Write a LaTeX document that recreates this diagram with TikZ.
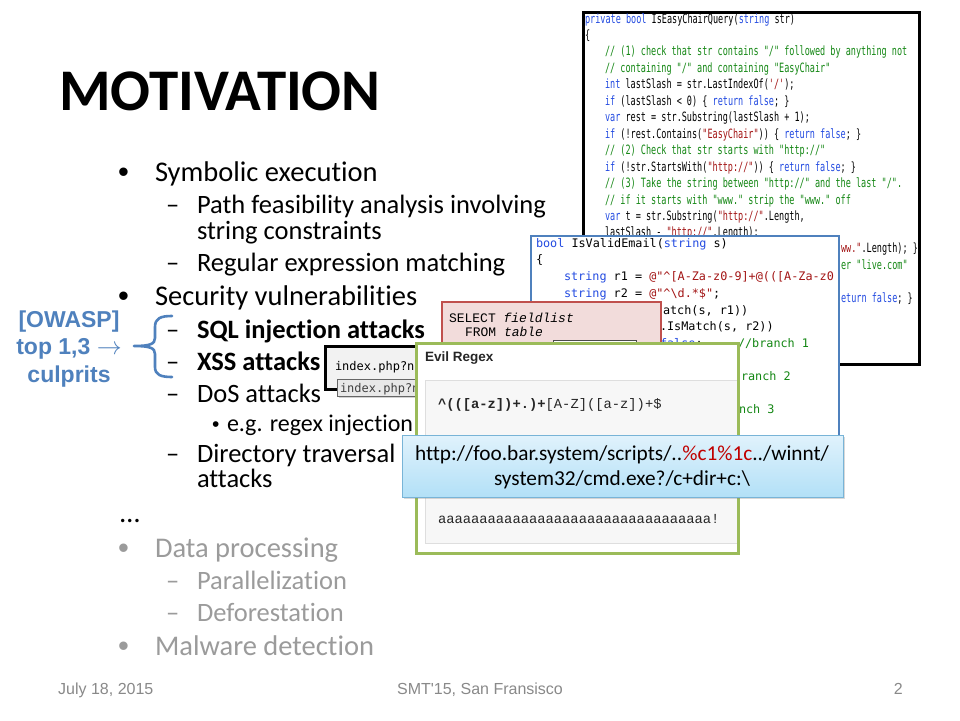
\documentclass[tikz,border=0pt]{standalone}
\usepackage{fontspec}
\setmainfont{Carlito}[Ligatures={NoCommon}]
\newfontfamily\arialf{Liberation Sans}
\newfontfamily\consf{DejaVu Sans Mono}
\newfontfamily\courf{Liberation Mono}
\usepackage{graphicx}
\usetikzlibrary{shadows}
\definecolor{kwblue}{RGB}{35,75,225}
\definecolor{cmgreen}{RGB}{20,135,20}
\definecolor{strred}{RGB}{163,21,21}
\definecolor{owaspblue}{RGB}{79,129,189}
\definecolor{sqlred}{RGB}{192,80,77}
\definecolor{sqlfill}{RGB}{242,220,219}
\definecolor{evilgreen}{RGB}{155,187,89}
\definecolor{fadegray}{RGB}{155,155,155}
\definecolor{footgray}{RGB}{137,137,137}
\definecolor{urltop}{RGB}{224,242,252}
\definecolor{urlbot}{RGB}{178,224,247}
\definecolor{urlline}{RGB}{120,180,215}
\definecolor{urlred}{RGB}{192,0,0}
\newcommand\setfs[1]{\fontsize{#1}{#1}\selectfont}
\newcommand\ckw[1]{\textcolor{kwblue}{#1}}
\newcommand\ccm[1]{\textcolor{cmgreen}{#1}}
\newcommand\cst[1]{\textcolor{strred}{#1}}
\newcommand\cone[1]{\scalebox{0.665}[1]{#1}}
\tikzset{
  txt/.style={anchor=base west, inner sep=0pt, outer sep=0pt},
  lvlone/.style={txt, font=\setfs{28.5}},
  lvltwo/.style={txt, font=\setfs{26.5}},
  lvlthree/.style={txt, font=\setfs{24}},
  bulone/.style={txt, font=\arialf\setfs{31}},
  bulthree/.style={txt, font=\arialf\setfs{21}},
  codeone/.style={txt, font=\consf\setfs{12.8}},
  codetwo/.style={txt, font=\consf\setfs{11.8}},
  sqltxt/.style={txt, font=\courf\setfs{13}},
  regtxt/.style={txt, font=\courf\setfs{13.8}},
  owasp/.style={anchor=base, inner sep=0pt, font=\arialf\bfseries\setfs{23}, text=owaspblue},
  foot/.style={inner sep=0pt, font=\arialf\setfs{16}, text=footgray},
}
\begin{document}
\begin{tikzpicture}[x=1pt,y=-1pt]
\useasboundingbox (0,0) rectangle (960,720);
\fill[white] (0,0) rectangle (960,720);

% Title
\node[txt, font=\bfseries\setfs{59}] (title) at (59,110) {MOTIVATION};

% Bullet list
\node[bulone] (b1) at (118,182) {•};
\node[lvlone] (t1) at (155,181) {Symbolic execution};
\node[lvltwo] (d11) at (166,213) {–};
\node[lvltwo] (t11) at (197,213) {Path feasibility analysis involving};
\node[lvltwo] (t11b) at (197,239) {string constraints};
\node[lvltwo] (d12) at (166,271) {–};
\node[lvltwo] (t12) at (197,271) {Regular expression matching};
\node[bulone] (b2) at (118,306) {•};
\node[lvlone] (t2) at (155,305) {Security vulnerabilities};
\node[lvltwo] (d21) at (166,338) {–};
\node[lvltwo, font=\bfseries\setfs{26.5}] (t21) at (197,338) {SQL injection attacks};
\node[lvltwo] (d22) at (166,370) {–};
\node[lvltwo, font=\bfseries\setfs{26.5}] (t22) at (197,370) {XSS attacks};
\node[lvltwo] (d23) at (166,402) {–};
\node[lvltwo] (t23) at (197,402) {DoS attacks};
\node[bulthree] (b231) at (212,431) {•};
\node[lvlthree] (t231) at (227,431) {e.g. regex injection};
\node[lvltwo] (d24) at (166,462) {–};
\node[lvltwo] (t24) at (197,462) {Directory traversal};
\node[lvltwo] (t24b) at (197,487) {attacks};
\node[lvlone] (dots) at (120,522) {\dots};
\node[bulone, text=fadegray] (b3) at (118,558) {•};
\node[lvlone, text=fadegray] (t3) at (155,557) {Data processing};
\node[lvltwo, text=fadegray] (d31) at (166,589) {–};
\node[lvltwo, text=fadegray] (t31) at (197,589) {Parallelization};
\node[lvltwo, text=fadegray] (d32) at (166,621) {–};
\node[lvltwo, text=fadegray] (t32) at (197,621) {Deforestation};
\node[bulone, text=fadegray] (b4) at (118,656) {•};
\node[lvlone, text=fadegray] (t4) at (155,655) {Malware detection};

% OWASP label and brace
\node[owasp] (ow1) at (69,327) {[OWASP]};
\node[owasp] (ow2) at (69,354) {top 1,3 \textmd{$\rightarrow$}};
\node[owasp] (ow3) at (69,382) {culprits};
\draw[owaspblue, line width=2.6pt, line cap=round, line join=round]
  (172,316) .. controls (161,316) and (155,318) .. (155,327) -- (155,338)
  .. controls (155,344) and (150,346) .. (134,346)
  .. controls (150,346) and (155,348) .. (155,354) -- (155,367)
  .. controls (155,375) and (161,377) .. (172,377);

% Code box 1
\node[draw=black, line width=3pt, fill=white, anchor=north west, minimum width=336pt, minimum height=352pt, inner sep=0pt] (codea) at (582,11) {};
\node[codeone] (ca1) at (585,23) {\cone{\ckw{private bool} IsEasyChairQuery(\ckw{string} str)}};
\node[codeone] (ca2) at (585,39) {\cone{\{}};
\node[codeone] (ca3) at (605,55.5) {\cone{\ccm{// (1) check that str contains "/" followed by anything not}}};
\node[codeone] (ca4) at (605,72) {\cone{\ccm{// containing "/" and containing "EasyChair"}}};
\node[codeone] (ca5) at (605,88.5) {\cone{\ckw{int} lastSlash = str.LastIndexOf(\cst{\textquotesingle/\textquotesingle});}};
\node[codeone] (ca6) at (605,105) {\cone{\ckw{if} (lastSlash < 0) \{ \ckw{return false}; \}}};
\node[codeone] (ca7) at (605,121.5) {\cone{\ckw{var} rest = str.Substring(lastSlash + 1);}};
\node[codeone] (ca8) at (605,138) {\cone{\ckw{if} (!rest.Contains(\cst{"EasyChair"})) \{ \ckw{return false}; \}}};
\node[codeone] (ca9) at (605,154.5) {\cone{\ccm{// (2) Check that str starts with "http://"}}};
\node[codeone] (ca10) at (605,171) {\cone{\ckw{if} (!str.StartsWith(\cst{"http://"})) \{ \ckw{return false}; \}}};
\node[codeone] (ca11) at (605,187.5) {\cone{\ccm{// (3) Take the string between "http://" and the last "/".}}};
\node[codeone] (ca12) at (605,204) {\cone{\ccm{// if it starts with "www." strip the "www." off}}};
\node[codeone] (ca13) at (605,220) {\cone{\ckw{var} t = str.Substring(\cst{"http://"}.Length,}};
\node[codeone] (ca14) at (605,236) {\cone{lastSlash - \cst{"http://"}.Length);}};
\node[codeone] (ca15) at (841,252.5) {\cone{\cst{ww."}.Length); \}}};
\node[codeone] (ca16) at (841,269) {\cone{\ccm{er "live.com"}}};
\node[codeone] (ca17) at (841,302) {\cone{\ckw{eturn false}; \}}};

% Code box 2
\node[draw=owaspblue, line width=2.2pt, fill=white, anchor=north west, minimum width=308pt, minimum height=235pt, inner sep=0pt] (codeb) at (530,235) {};
\node[codetwo] (cb1) at (536,247) {\ckw{bool} IsValidEmail(\ckw{string} s)};
\node[codetwo] (cb2) at (536,263) {\{};
\node[codetwo] (cb3) at (564,280) {\ckw{string} r1 = \cst{@"\textasciicircum[A-Za-z0-9]+@(([A-Za-z0}};
\node[codetwo] (cb4) at (564,297) {\ckw{string} r2 = \cst{@"\textasciicircum\textbackslash d.*\$"};};
\node[codetwo] (cb5) at (663,314) {atch(s, r1))};
\node[codetwo] (cb6) at (660,330) {.IsMatch(s, r2))};
\node[codetwo] (cb7) at (660,347) {\ckw{false};};
\node[codetwo] (cb7b) at (738,347) {\ccm{//branch 1}};
\node[codetwo] (cb8) at (741,380) {\ccm{ranch 2}};
\node[codetwo] (cb9) at (739,413) {\ccm{nch 3}};

% SQL box
\node[draw=sqlred, line width=2.2pt, fill=sqlfill, anchor=north west, minimum width=219pt, minimum height=90pt, inner sep=0pt] (sqlbox) at (441,301) {};
\node[sqltxt] (sql1) at (449,322) {SELECT \textit{fieldlist}};
\node[sqltxt] (sql2) at (465,336) {FROM \textit{table}};
\node[draw=black!70, fill=white, line width=0.6pt, anchor=north west, minimum width=83pt, minimum height=14pt, inner sep=0pt] (sqlfield) at (553,340) {};

% index.php box
\node[draw=black, line width=3pt, fill=black!5, anchor=north west, minimum width=106pt, minimum height=43pt, inner sep=0pt] (idxbox) at (324,345) {};
\node[codetwo, font=\consf\setfs{12}] (idx1) at (335,370) {index.php?n};
\node[draw=black!60, line width=0.8pt, fill=black!9, anchor=north west, minimum width=93pt, minimum height=17pt, inner sep=0pt, drop shadow={opacity=0.35, shadow xshift=1.5pt, shadow yshift=-1.5pt}] (tipbox) at (337,379) {};
\node[codetwo, font=\consf\setfs{12}, text=black!75] (idx2) at (340,392) {index.php?n};

% Evil Regex box
\node[fill=white, anchor=north west, minimum width=322pt, minimum height=210pt, inner sep=0pt] (evilbg) at (415,342) {};
\node[fill=black!3, draw=black!13, line width=0.8pt, anchor=north west, minimum width=313pt, minimum height=163pt, inner sep=0pt] (evilpanel) at (425,380) {};
\node[draw=evilgreen, line width=3pt, anchor=north west, minimum width=322pt, minimum height=210pt, inner sep=0pt] (evilbox) at (415,342) {};
\node[txt, font=\arialf\bfseries\setfs{13.5}, text=black!85] (eviltitle) at (425,361) {Evil Regex};
\node[regtxt, text=black!85] (regex) at (438,408) {\textbf{\textasciicircum(([a-z])+.)+}[A-Z]([a-z])+\$};
\node[regtxt, text=black!85] (aaa) at (438,523) {aaaaaaaaaaaaaaaaaaaaaaaaaaaaaaaaa!};

% URL box
\node[draw=urlline, line width=0.8pt, top color=urltop, bottom color=urlbot, anchor=north west, minimum width=441pt, minimum height=62pt, inner sep=0pt, drop shadow={opacity=0.3, shadow xshift=2pt, shadow yshift=-2pt}] (urlbox) at (402,435) {};
\node[anchor=base, inner sep=0pt, font=\setfs{21.3}] (url1) at (622,460) {http://foo.bar.system/scripts/..\textcolor{urlred}{\%c1\%1c}../winnt/};
\node[anchor=base, inner sep=0pt, font=\setfs{21.3}] (url2) at (622,485) {system32/cmd.exe?/c+dir+c:\textbackslash};

% Footer
\node[foot, anchor=base west] (fdate) at (58,694) {July 18, 2015};
\node[foot, anchor=base] (fconf) at (480,694) {SMT\textquotesingle15, San Fransisco};
\node[foot, anchor=base east] (fpage) at (903,694) {2};
\end{tikzpicture}
\end{document}
